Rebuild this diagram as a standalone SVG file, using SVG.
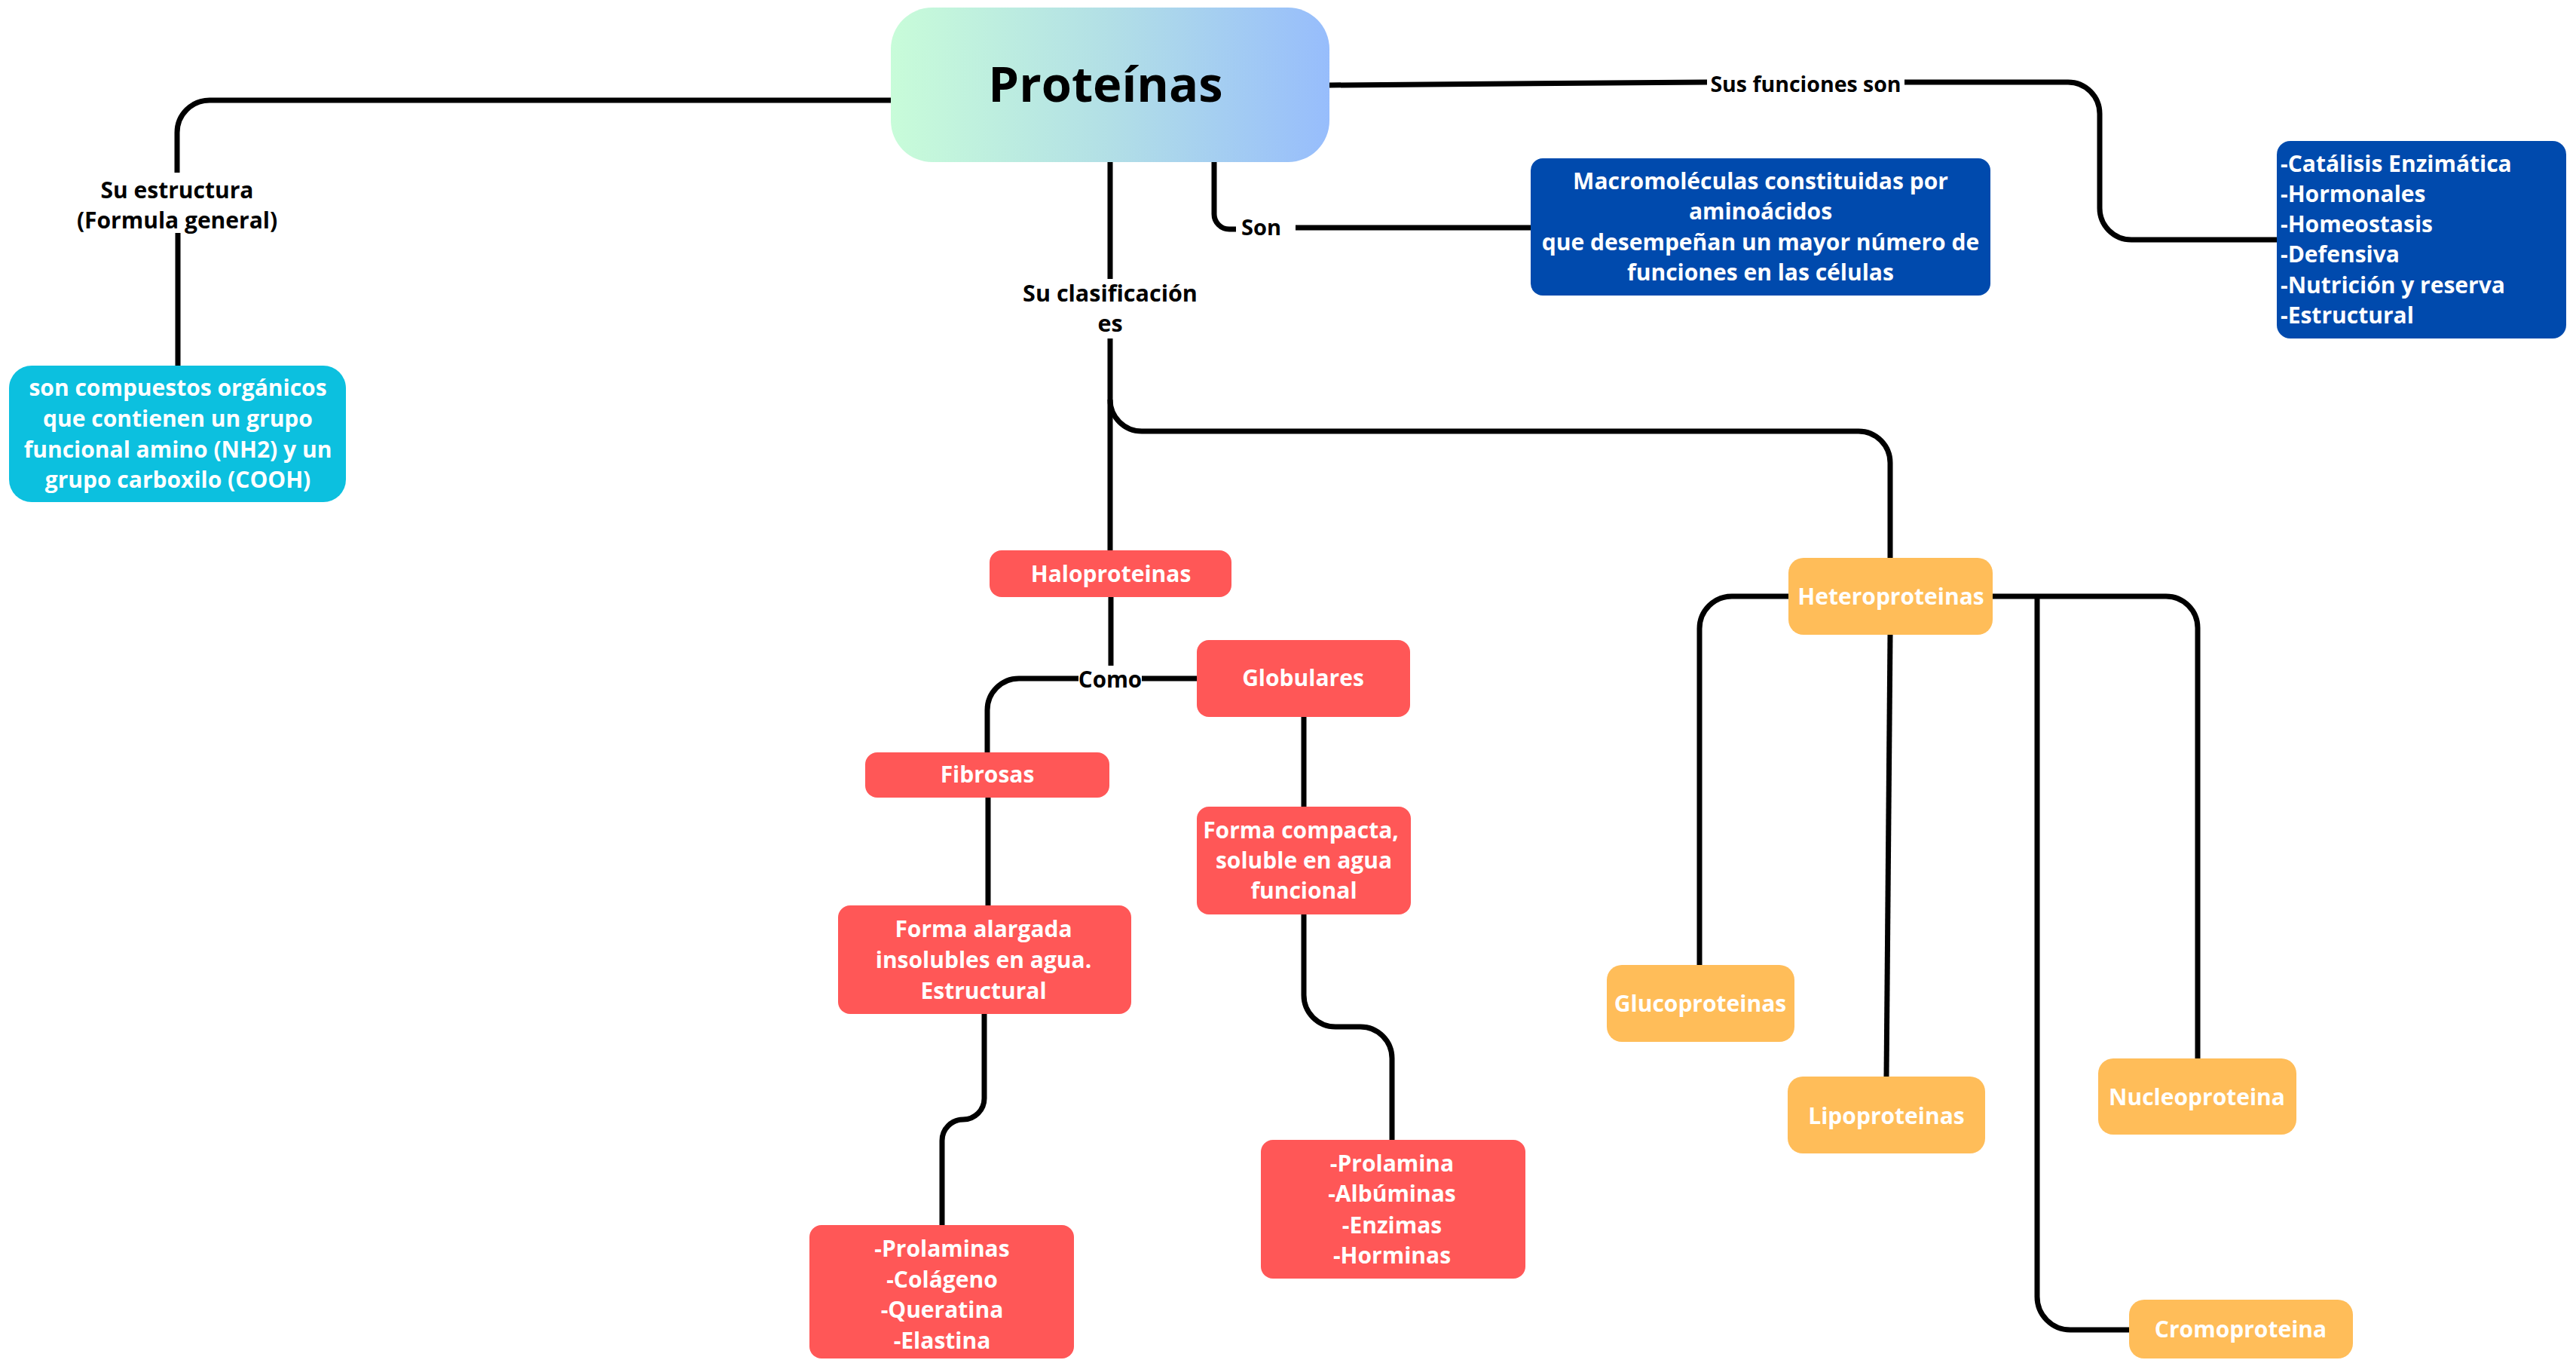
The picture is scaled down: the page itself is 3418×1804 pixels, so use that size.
<svg xmlns="http://www.w3.org/2000/svg" width="3418" height="1804" viewBox="0 0 3418 1804">
<defs>
<linearGradient id="g" x1="0" y1="0" x2="1" y2="0">
<stop offset="0" stop-color="#c8fcd9"/>
<stop offset="0.5" stop-color="#b2dfe6"/>
<stop offset="1" stop-color="#97bdfc"/>
</linearGradient>
<style>
text{font-family:"Open Sans","Liberation Sans",sans-serif;font-weight:700;text-anchor:middle}
.w{fill:#ffffff;font-size:30px}
.lab{fill:#000000}
.red{fill:#ff5757}
.org{fill:#ffbd59}
.blu{fill:#004aad}
.cyn{fill:#0cc0df}
.c path{fill:none;stroke:#000000;stroke-width:7}
</style>
</defs>
<rect width="3418" height="1804" fill="#ffffff"/>
<g class="c" id="connectors">
<path d="M1182,133 H278 A43,43 0 0 0 235,176 V229"/>
<path d="M236,309 V485"/>
<path d="M1764,113 L2265,109"/>
<path d="M2527,109 H2744 A42,42 0 0 1 2786,151 V276 A42,42 0 0 0 2828,318 H3021"/>
<path d="M1611,215 V284 A20,20 0 0 0 1631,304 H1640"/>
<path d="M1719,302 H2031"/>
<path d="M1473,215 V370"/>
<path d="M1473,449 V730"/>
<path d="M1473,530 A42,42 0 0 0 1515,572 H2466 A42,42 0 0 1 2508,614 V740"/>
<path d="M1474,792 V883"/>
<path d="M1515,900 H1588"/>
<path d="M1431,900 H1352 A42,42 0 0 0 1310,942 V998"/>
<path d="M1730,951 V1070"/>
<path d="M1311,1058 V1201"/>
<path d="M1306,1345 V1457 A28,28 0 0 1 1278,1485 A28,28 0 0 0 1250,1513 V1625"/>
<path d="M1730,1213 V1320 A42,42 0 0 0 1772,1362 H1805 A42,42 0 0 1 1847,1404 V1512"/>
<path d="M2373,791 H2298 A43,43 0 0 0 2255,834 V1280"/>
<path d="M2644,791 H2874 A42,42 0 0 1 2916,833 V1404"/>
<path d="M2508,842 L2503,1428"/>
<path d="M2703,791 V1720 A44,44 0 0 0 2747,1764 H2825"/>
</g>
<g id="labels">
<text class="lab" x="235" y="263" font-size="30">Su estructura</text>
<text class="lab" x="235" y="303" font-size="30">(Formula general)</text>
<text class="lab" x="1473" y="400" font-size="30.5">Su clasificación</text>
<text class="lab" x="1473" y="440" font-size="30.5">es</text>
<text class="lab" x="1647" y="312" font-size="29" style="text-anchor:start">Son</text>
<text class="lab" x="2396" y="122" font-size="28.5">Sus funciones son</text>
<text class="lab" x="1473" y="912" font-size="29.5">Como</text>
</g>
<g id="proteinas">
<rect x="1182" y="10" width="582" height="205" rx="55" fill="url(#g)"/>
<text x="1467" y="135" font-size="65" fill="#000000">Proteínas</text>
</g>
<g id="estructura">
<rect class="cyn" x="12" y="485" width="447" height="181" rx="30"/>
<text class="w" x="236" y="525">son compuestos orgánicos</text>
<text class="w" x="236" y="566">que contienen un grupo</text>
<text class="w" x="236" y="607">funcional amino (NH2) y un</text>
<text class="w" x="236" y="647">grupo carboxilo (COOH)</text>
</g>
<g id="macromoleculas">
<rect class="blu" x="2031" y="210" width="610" height="182" rx="16"/>
<text class="w" x="2336" y="251">Macromoléculas constituidas por</text>
<text class="w" x="2336" y="291">aminoácidos</text>
<text class="w" x="2336" y="332">que desempeñan un mayor número de</text>
<text class="w" x="2336" y="372">funciones en las células</text>
</g>
<g id="funciones">
<rect class="blu" x="3021" y="187" width="384" height="262" rx="18"/>
<text class="w" x="3026" y="228" style="text-anchor:start">-Catálisis Enzimática</text>
<text class="w" x="3026" y="268" style="text-anchor:start">-Hormonales</text>
<text class="w" x="3026" y="308" style="text-anchor:start">-Homeostasis</text>
<text class="w" x="3026" y="348" style="text-anchor:start">-Defensiva</text>
<text class="w" x="3026" y="389" style="text-anchor:start">-Nutrición y reserva</text>
<text class="w" x="3026" y="429" style="text-anchor:start">-Estructural</text>
</g>
<g id="haloproteinas">
<rect class="red" x="1313" y="730" width="321" height="62" rx="16"/>
<text class="w" x="1474" y="772">Haloproteinas</text>
</g>
<g id="globulares">
<rect class="red" x="1588" y="849" width="283" height="102" rx="16"/>
<text class="w" x="1729" y="910">Globulares</text>
</g>
<g id="fibrosas">
<rect class="red" x="1148" y="998" width="324" height="60" rx="16"/>
<text class="w" x="1310" y="1038">Fibrosas</text>
</g>
<g id="forma-alargada">
<rect class="red" x="1112" y="1201" width="389" height="144" rx="16"/>
<text class="w" x="1305" y="1243">Forma alargada</text>
<text class="w" x="1305" y="1284">insolubles en agua.</text>
<text class="w" x="1305" y="1325">Estructural</text>
</g>
<g id="forma-compacta">
<rect class="red" x="1588" y="1070" width="284" height="143" rx="16"/>
<text class="w" x="1726" y="1112">Forma compacta,</text>
<text class="w" x="1730" y="1152">soluble en agua</text>
<text class="w" x="1730" y="1192">funcional</text>
</g>
<g id="fibrosas-ejemplos">
<rect class="red" x="1074" y="1625" width="351" height="177" rx="16"/>
<text class="w" x="1250" y="1667">-Prolaminas</text>
<text class="w" x="1250" y="1708">-Colágeno</text>
<text class="w" x="1250" y="1748">-Queratina</text>
<text class="w" x="1250" y="1789">-Elastina</text>
</g>
<g id="globulares-ejemplos">
<rect class="red" x="1673" y="1512" width="351" height="184" rx="16"/>
<text class="w" x="1847" y="1554">-Prolamina</text>
<text class="w" x="1847" y="1594">-Albúminas</text>
<text class="w" x="1847" y="1636">-Enzimas</text>
<text class="w" x="1847" y="1676">-Horminas</text>
</g>
<g id="heteroproteinas">
<rect class="org" x="2373" y="740" width="271" height="102" rx="20"/>
<text class="w" x="2509" y="802">Heteroproteinas</text>
</g>
<g id="glucoproteinas">
<rect class="org" x="2132" y="1280" width="249" height="102" rx="20"/>
<text class="w" x="2256" y="1342">Glucoproteinas</text>
</g>
<g id="lipoproteinas">
<rect class="org" x="2372" y="1428" width="262" height="102" rx="20"/>
<text class="w" x="2503" y="1491">Lipoproteinas</text>
</g>
<g id="nucleoproteina">
<rect class="org" x="2784" y="1404" width="263" height="101" rx="20"/>
<text class="w" x="2915" y="1466">Nucleoproteina</text>
</g>
<g id="cromoproteina">
<rect class="org" x="2825" y="1724" width="297" height="78" rx="20"/>
<text class="w" x="2973" y="1774">Cromoproteina</text>
</g>
</svg>
